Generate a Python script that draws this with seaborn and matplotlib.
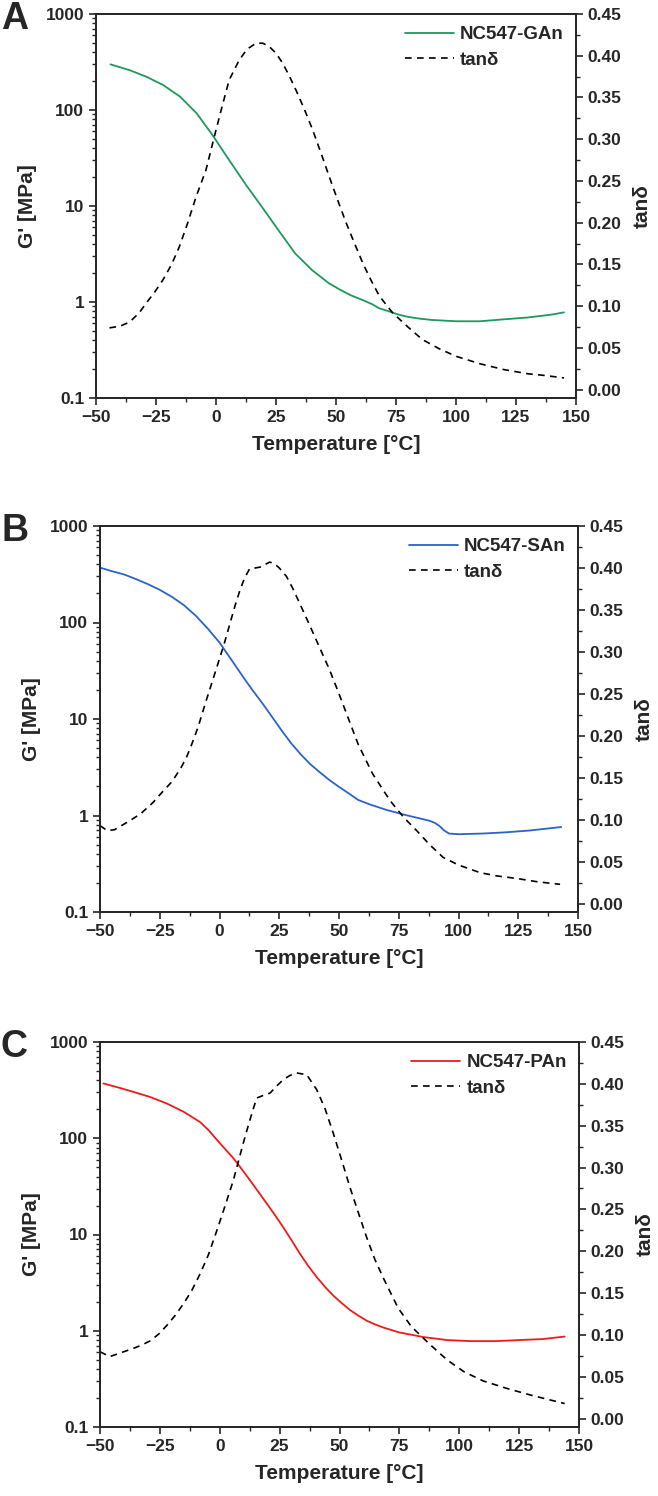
import numpy as np
import pandas as pd
import matplotlib
matplotlib.use("Agg")
import matplotlib.pyplot as plt
import matplotlib.ticker as mticker
from matplotlib.lines import Line2D
import seaborn as sns

# panel A: NC547-GAn
temp_g_a = [-44, -36, -29, -22, -15, -8, -1.5, 5.5, 12.5, 19.5, 26, 33, 40, 47, 52, 56, 61, 65, 68, 72, 76, 80, 85, 90, 100, 110, 120, 130, 140, 145]
gp_a = [299, 260, 222, 182, 138, 92, 55, 30, 16.6, 9.5, 5.6, 3.2, 2.15, 1.57, 1.33, 1.18, 1.05, 0.95, 0.86, 0.80, 0.74, 0.70, 0.67, 0.65, 0.63, 0.63, 0.66, 0.69, 0.74, 0.78]
temp_t_a = [-44.4, -40, -36, -32, -29, -25.5, -22, -18.5, -15.3, -12, -8.3, -4.2, 0, 2.8, 5.5, 9.7, 13, 16.7, 19.5, 22.2, 25, 27.8, 30.5, 33.3, 36.8, 40.3, 43.8, 47.2, 50.7, 54.2, 57.6, 61.1, 64.6, 68.1, 73.6, 80, 86, 93, 100, 110, 120, 130, 137, 145]
tan_a = [0.074, 0.076, 0.081, 0.092, 0.104, 0.117, 0.132, 0.150, 0.171, 0.198, 0.231, 0.263, 0.311, 0.342, 0.371, 0.395, 0.408, 0.415, 0.415, 0.411, 0.403, 0.391, 0.376, 0.359, 0.336, 0.311, 0.283, 0.255, 0.227, 0.200, 0.176, 0.152, 0.131, 0.112, 0.092, 0.075, 0.060, 0.049, 0.040, 0.031, 0.024, 0.019, 0.017, 0.014]

# panel B: NC547-SAn
temp_g_b = [-50, -45, -40, -35, -30, -25, -20, -15, -10, -5, 0, 5, 10, 14, 18, 22, 26, 30, 34, 38, 42, 46, 50, 54, 58, 63, 70, 78, 84, 88, 90, 92, 94, 96, 100, 110, 120, 130, 143]
gp_b = [370, 340, 315, 282, 250, 218, 185, 152, 118, 87, 62, 41, 27, 19.6, 14.5, 10.5, 7.6, 5.6, 4.3, 3.4, 2.8, 2.33, 1.98, 1.7, 1.45, 1.3, 1.14, 1.01, 0.93, 0.88, 0.84, 0.78, 0.70, 0.65, 0.64, 0.65, 0.67, 0.70, 0.76]
temp_t_b = [-50, -47, -44, -38, -33, -28, -23.6, -20, -16.5, -14, -11.6, -9, -6, -3, -1.2, 2, 4.3, 6.5, 8.5, 10.5, 12.6, 15, 17, 19, 21, 23, 25, 28, 30.6, 34, 38, 41.9, 46, 50, 54, 58, 64, 71.3, 77, 82.5, 88, 93.6, 100, 108.9, 116, 124.3, 133, 142.5]
tan_b = [0.093, 0.087, 0.088, 0.098, 0.107, 0.12, 0.134, 0.145, 0.160, 0.173, 0.19, 0.21, 0.238, 0.265, 0.281, 0.31, 0.333, 0.355, 0.373, 0.388, 0.399, 0.40, 0.401, 0.404, 0.407, 0.405, 0.40, 0.39, 0.376, 0.355, 0.33, 0.305, 0.279, 0.25, 0.22, 0.19, 0.155, 0.123, 0.103, 0.087, 0.07, 0.055, 0.046, 0.037, 0.033, 0.030, 0.026, 0.023]

# panel C: NC547-PAn
temp_g_c = [-48.6, -42, -36, -29, -22, -15, -8, -4.5, -1.3, 2, 5.7, 9, 12.6, 16, 19.6, 23, 26.5, 30, 33.5, 37, 40.5, 44, 47.4, 51, 54.4, 58, 61.4, 65, 68.3, 75, 85, 95, 105, 115, 125, 135, 144]
gp_c = [371, 335, 303, 268, 229, 188, 146, 120, 97, 78.5, 62, 48.4, 36.7, 28, 21, 16, 11.9, 8.7, 6.3, 4.7, 3.6, 2.85, 2.32, 1.93, 1.64, 1.43, 1.27, 1.16, 1.08, 0.96, 0.86, 0.80, 0.78, 0.78, 0.80, 0.82, 0.87]
temp_t_c = [-50, -46, -41, -36, -32.5, -29, -25.5, -22.2, -18.7, -15.2, -11.7, -8.2, -4.7, -1.3, 2.2, 5.7, 9.8, 12.6, 15.4, 18, 21, 24, 26.5, 29.3, 32.1, 36.3, 40.5, 44, 47.4, 51, 54.4, 58, 61.4, 64.8, 68.3, 74.5, 80, 88, 95, 102, 110, 120, 130, 144]
tan_c = [0.080, 0.074, 0.079, 0.084, 0.088, 0.093, 0.101, 0.111, 0.123, 0.137, 0.153, 0.173, 0.196, 0.224, 0.254, 0.285, 0.329, 0.357, 0.383, 0.386, 0.389, 0.398, 0.405, 0.410, 0.413, 0.411, 0.393, 0.37, 0.341, 0.308, 0.276, 0.245, 0.216, 0.19, 0.168, 0.132, 0.11, 0.088, 0.07, 0.056, 0.045, 0.036, 0.028, 0.018]

panels = [
    ("A", "NC547-GAn", "#1b9a5c", temp_g_a, gp_a, temp_t_a, tan_a),
    ("B", "NC547-SAn", "#2a63cc", temp_g_b, gp_b, temp_t_b, tan_b),
    ("C", "NC547-PAn", "#f01a1a", temp_g_c, gp_c, temp_t_c, tan_c),
]
# axes boxes in pixels: left, top, right, bottom
boxes = [(96, 14, 576, 398), (100, 526, 578, 912), (100, 1042, 579, 1427)]

sns.set_style("ticks")
plt.rcParams["font.family"] = ["Liberation Sans", "DejaVu Sans"]
plt.rcParams["font.weight"] = "bold"
plt.rcParams["axes.linewidth"] = 1.3

W, H = 658, 1496
fig = plt.figure(figsize=(W / 100, H / 100), dpi=100)
dash = (0, (4, 3.2))

for (letter, name, color, tg, gp, tt, tan), (l, t, r, b) in zip(panels, boxes):
    ax = fig.add_axes([l / W, 1 - b / H, (r - l) / W, (b - t) / H])
    df_g = pd.DataFrame({"T": tg, "G": gp})
    df_t = pd.DataFrame({"T": tt, "tan": tan})
    sns.lineplot(data=df_g, x="T", y="G", ax=ax, color=color, lw=1.3)
    ax.set_yscale("log")
    ax.set_ylim(0.1, 1000)
    ax.set_xlim(-50, 150)
    ax.xaxis.set_major_locator(mticker.MultipleLocator(25))
    ax.xaxis.set_minor_locator(mticker.MultipleLocator(12.5))
    ax.yaxis.set_major_locator(mticker.LogLocator(base=10))
    ax.yaxis.set_minor_locator(mticker.LogLocator(base=10, subs=np.arange(2, 10)))
    ax.yaxis.set_minor_formatter(mticker.NullFormatter())
    ax.yaxis.set_major_formatter(mticker.FuncFormatter(lambda v, p: f"{v:g}"))
    ax.set_xlabel("Temperature [°C]", fontsize=15, fontweight="bold", labelpad=7)
    ax.set_ylabel("G' [MPa]", fontsize=15, fontweight="bold", labelpad=6)
    ax.tick_params(which="major", direction="out", length=5, width=1.2, labelsize=12.5)
    ax.tick_params(which="minor", direction="out", length=3, width=1.0)
    for lab in ax.get_xticklabels() + ax.get_yticklabels():
        lab.set_fontweight("bold")

    ax2 = ax.twinx()
    sns.lineplot(data=df_t, x="T", y="tan", ax=ax2, color="black", lw=1.2, linestyle=dash)
    ax2.set_ylim(-0.01, 0.45)
    ax2.yaxis.set_major_locator(mticker.MultipleLocator(0.05))
    ax2.yaxis.set_minor_locator(mticker.MultipleLocator(0.025))
    ax2.yaxis.set_major_formatter(mticker.FormatStrFormatter("%.2f"))
    ax2.set_ylabel("tanδ", fontsize=15, fontweight="bold", labelpad=8)
    ax2.tick_params(which="major", direction="out", length=5, width=1.2, labelsize=12.5)
    ax2.tick_params(which="minor", direction="out", length=3, width=1.0)
    for lab in ax2.get_yticklabels():
        lab.set_fontweight("bold")

    handles = [Line2D([], [], color=color, lw=1.3),
               Line2D([], [], color="black", lw=1.2, linestyle=dash)]
    ax2.legend(handles, [name, "tanδ"], loc="upper right", frameon=False,
               handlelength=2.6, handletextpad=0.35, labelspacing=0.45,
               borderaxespad=0.25, prop={"weight": "bold", "size": 13.5})

    fig.text(1 / W, 1 - (t + 5) / H, letter, fontsize=27, fontweight="bold",
             va="center", ha="left")

fig.savefig("out.png", dpi=100)
